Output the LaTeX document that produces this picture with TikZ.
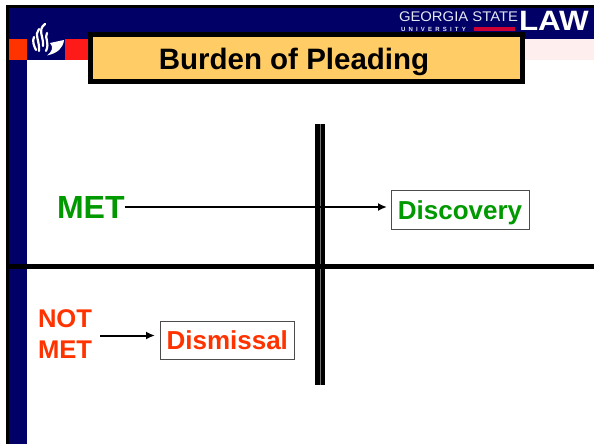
\documentclass[tikz,border=0pt]{standalone}
\usepackage{fontspec}
\setmainfont{Liberation Sans}
\usetikzlibrary{arrows.meta}
\definecolor{navyb}{HTML}{000066}
\definecolor{orangeb}{HTML}{FF3300}
\definecolor{redb}{HTML}{FF1A1A}
\definecolor{pinkb}{HTML}{FFEEEE}
\definecolor{goldb}{HTML}{FFCC66}
\definecolor{greenb}{HTML}{009900}
\definecolor{crimsonb}{HTML}{CC0033}
\definecolor{headtext}{HTML}{E4E6F2}
\tikzset{
  x=1pt,y=-1pt,
  every node/.style={inner sep=0pt,outer sep=0pt},
  band/.style={fill=#1,draw=none},
  outcome/.style={draw=black!70,line width=1pt,fill=white,font=\bfseries\fontsize{26}{28}\selectfont,anchor=west,text height=21pt,text depth=2pt,align=center},
  conn/.style={line width=2pt,-{Latex[length=9pt,width=8pt]}},
  flame/.style={white,line width=2.2pt,line cap=round}
}
\begin{document}
\begin{tikzpicture}
\useasboundingbox (0,0) rectangle (594,444);
\fill[white] (0,0) rectangle (594,444);
% header
\fill[band=pinkb] (524,39) rectangle (594,60);
\fill[band=black] (6,5) rectangle (594,39);
\fill[band=black] (6,5) rectangle (9,444);
\fill[band=navyb] (9,8) rectangle (594,39);
\fill[band=navyb] (9,8) rectangle (27,444);
\fill[band=navyb] (27,39) rectangle (65,60);
\fill[band=orangeb] (9,39) rectangle (27,60);
\fill[band=redb] (65,39) rectangle (90,60);
% logo
\fill[white] (50,43) -- (64,40) .. controls (63,48) and (58,53) .. (47,55.5) .. controls (52,52) and (54,47) .. (50,43) -- cycle;
\draw[flame] (45,24) .. controls (37,30) and (44,37) .. (43,46);
\draw[flame] (39,29) .. controls (34,34) and (40,42) .. (39,51);
\draw[flame] (47,33) .. controls (44,38) and (50,42) .. (46,51);
\draw[flame] (34,37) .. controls (32,41) and (34,46) .. (36,50);
% header text
\node[font=\fontsize{14}{15}\selectfont,text=headtext,anchor=west,xscale=1.06] (gsu) at (399,16.7) {GEORGIA STATE};
\node[font=\bfseries\fontsize{6}{6}\selectfont,text=headtext,anchor=west] (uni) at (401,29) {U\hspace{3.2pt}N\hspace{3.2pt}I\hspace{3.2pt}V\hspace{3.2pt}E\hspace{3.2pt}R\hspace{3.2pt}S\hspace{3.2pt}I\hspace{3.2pt}T\hspace{3.2pt}Y};
\fill[band=crimsonb] (474,27.3) rectangle (515,30.7);
\node[font=\bfseries\fontsize{28}{30}\selectfont,text=white,anchor=west,xscale=1.12] (law) at (519,21) {LAW};
% title
\node[draw=black,line width=5pt,fill=goldb,minimum width=432pt,minimum height=46pt,anchor=center,font=\bfseries\fontsize{29.5}{32}\selectfont,text height=25pt,text depth=2pt] (title) at (306.5,58) {\hspace*{-25pt}Burden of Pleading};
% bars
\coordinate (vt) at (320,124);
\coordinate (vb) at (320,385);
\coordinate (hl) at (6,266.5);
\coordinate (hr) at (594,266.5);
\draw[line width=9.5pt,black] (vt) -- (vb);
\draw[line width=0.7pt,black!55!white] (vt) -- (vb);
\draw[line width=5pt,black] (hl) -- (hr);
% upper row
\node[font=\bfseries\fontsize{32}{34}\selectfont,text=greenb,anchor=west] (met) at (57,207.5) {MET};
\node[outcome,text=greenb,minimum width=138pt,minimum height=39pt] (disc) at (391,210) {Discovery};
\coordinate (metend) at (387,207);
\draw[conn] (met.east |- metend) -- (metend);
% lower row
\node[font=\bfseries\fontsize{25.6}{31}\selectfont,text=orangeb,align=left,anchor=west] (notmet) at (38,334) {NOT\\MET};
\node[outcome,text=orangeb,minimum width=134.5pt,minimum height=38pt] (dism) at (160,340) {Dismissal};
\coordinate (nmstart) at (100,335.5);
\coordinate (nmend) at (155,335.5);
\draw[conn] (nmstart) -- (nmend);
\end{tikzpicture}
\end{document}
